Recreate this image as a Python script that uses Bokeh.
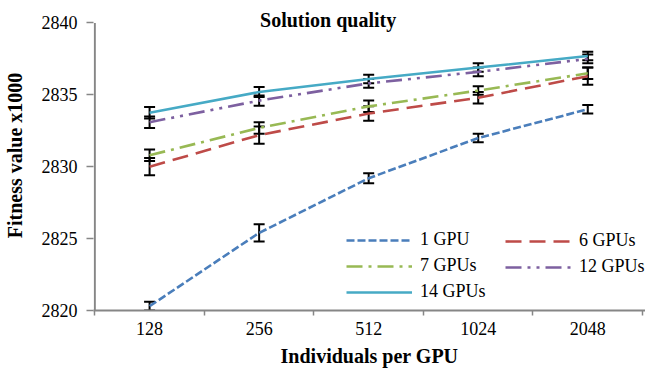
from bokeh.plotting import figure
from bokeh.models import (Range1d, FixedTicker, Legend, LegendItem, Whisker,
                          TeeHead, ColumnDataSource, Label)
from bokeh.embed import file_html
from bokeh.resources import INLINE

categories = ["128", "256", "512", "1024", "2048"]
series_names = ["1 GPU", "6 GPUs", "7 GPUs", "12 GPUs", "14 GPUs"]
gpu1 = [2820.3, 2825.4, 2829.2, 2832.0, 2834.0]
gpu1_err = [0.3, 0.6, 0.35, 0.3, 0.3]
gpu6 = [2830.0, 2832.2, 2833.7, 2834.8, 2836.3]
gpu6_err = [0.6, 0.6, 0.5, 0.4, 0.6]
gpu7 = [2830.8, 2832.7, 2834.2, 2835.3, 2836.5]
gpu7_err = [0.4, 0.4, 0.4, 0.3, 0.4]
gpu12 = [2833.1, 2834.6, 2835.8, 2836.6, 2837.5]
gpu12_err = [0.4, 0.35, 0.3, 0.3, 0.3]
gpu14 = [2833.75, 2835.2, 2836.1, 2836.9, 2837.7]
gpu14_err = [0.4, 0.35, 0.3, 0.3, 0.3]
y_ticks = [2820, 2825, 2830, 2835, 2840]

series = [gpu1, gpu6, gpu7, gpu12, gpu14]
errors = [gpu1_err, gpu6_err, gpu7_err, gpu12_err, gpu14_err]
colors = ["#4A7EBB", "#BE4B48", "#98B954", "#7D60A0", "#46AAC5"]
dashes = ["8 3", "16 8", "16 6 3 6", "16 6 3 6 3 6", "solid"]

xs = [i + 0.5 for i in range(len(categories))]
SERIF = "Liberation Serif"
AXIS_GRAY = "#868686"

p = figure(width=645, height=376, output_backend="svg", toolbar_location=None,
           x_range=Range1d(-0.012, len(categories) + 0.027),
           y_range=Range1d(y_ticks[0], y_ticks[-1] + 1.565),
           min_border_left=91, min_border_right=0, min_border_top=0,
           min_border_bottom=66)
p.outline_line_color = None
p.xgrid.visible = False
p.ygrid.visible = False

items = {}
for name, ys, col, dash in zip(series_names, series, colors, dashes):
    r = p.line(xs, ys, line_color=col, line_width=2.6, line_dash=dash)
    items[name] = r

for ys, err in zip(series, errors):
    src = ColumnDataSource(dict(x=xs, lo=[y - e for y, e in zip(ys, err)],
                                hi=[y + e for y, e in zip(ys, err)]))
    w = Whisker(base="x", lower="lo", upper="hi", source=src,
                line_color="black", line_width=2,
                lower_head=TeeHead(size=11, line_width=2, line_color="black"),
                upper_head=TeeHead(size=11, line_width=2, line_color="black"))
    p.add_layout(w)

# y axis line only between the first and last tick
p.segment(x0=[0], y0=[y_ticks[0]], x1=[0], y1=[y_ticks[-1]],
          line_color=AXIS_GRAY, line_width=2)

# x axis
xa = p.xaxis[0]
xa.ticker = FixedTicker(ticks=xs, minor_ticks=list(range(len(categories) + 1)))
xa.major_label_overrides = {x: c for x, c in zip(xs, categories)}
xa.major_tick_line_color = None
xa.major_tick_out = 0
xa.major_tick_in = 0
xa.minor_tick_out = 5
xa.minor_tick_in = 0
xa.minor_tick_line_color = AXIS_GRAY
xa.minor_tick_line_width = 1.5
xa.axis_line_color = AXIS_GRAY
xa.axis_line_width = 2
xa.major_label_standoff = 6
xa.major_label_text_font = SERIF
xa.major_label_text_font_size = "18px"
xa.major_label_text_color = "black"
xa.axis_label = "Individuals per GPU"
xa.axis_label_text_font = SERIF
xa.axis_label_text_font_style = "bold"
xa.axis_label_text_font_size = "20px"
xa.axis_label_text_color = "black"
xa.axis_label_standoff = 7

ya = p.yaxis[0]
ya.ticker = FixedTicker(ticks=y_ticks, minor_ticks=[])
ya.major_tick_out = 7
ya.major_tick_in = 0
ya.major_tick_line_color = AXIS_GRAY
ya.major_tick_line_width = 1.5
ya.axis_line_color = None
ya.major_label_standoff = 9
ya.major_label_text_font = SERIF
ya.major_label_text_font_size = "18px"
ya.major_label_text_color = "black"
ya.axis_label = "Fitness value x1000"
ya.axis_label_text_font = SERIF
ya.axis_label_text_font_style = "bold"
ya.axis_label_text_font_size = "20px"
ya.axis_label_text_color = "black"
ya.axis_label_standoff = 13

title = Label(x=2.13, y=y_ticks[-1] + 0.174, text="Solution quality",
              text_align="center", text_baseline="alphabetic", text_font=SERIF,
              text_font_style="bold", text_font_size="20px", text_color="black")
p.add_layout(title)

legend_style = dict(padding=0, margin=0, spacing=5, glyph_width=66,
                    glyph_height=20, label_height=20, label_standoff=8,
                    label_text_font=SERIF, label_text_font_size="18px",
                    label_text_color="black", border_line_color=None,
                    background_fill_alpha=0)
col1 = ["1 GPU", "7 GPUs", "14 GPUs"]
col2 = ["6 GPUs", "12 GPUs"]
legend1 = Legend(items=[LegendItem(label=n, renderers=[items[n]]) for n in col1],
                 location=(253, 8), **legend_style)
legend2 = Legend(items=[LegendItem(label=n, renderers=[items[n]]) for n in col2],
                 location=(412, 33), label_width=80, **legend_style)
p.add_layout(legend1, "center")
p.add_layout(legend2, "center")

open("out.html", "w").write(file_html(p, INLINE))
